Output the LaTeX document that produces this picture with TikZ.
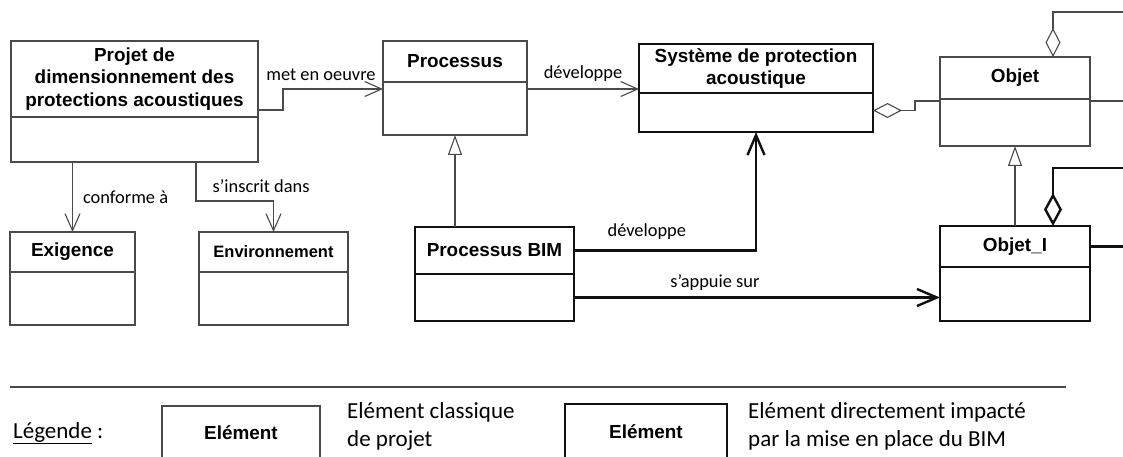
\documentclass[tikz,border=0pt]{standalone}
\usepackage{fontspec}
\setmainfont{Carlito}
\newfontfamily\arialfont{Liberation Sans}
\usetikzlibrary{arrows.meta,positioning,calc}
\definecolor{ink}{HTML}{111111}
\definecolor{trait}{HTML}{4A4A4A}
\newcommand\titrefont{\arialfont\bfseries\fontsize{18.9}{22.5}\selectfont}
\newcommand\lienfont{\fontsize{18.4}{22}\selectfont}
\newcommand\legfont{\fontsize{23}{28}\selectfont}

\begin{document}
\begin{tikzpicture}[x=1pt,y=-1pt]
\tikzset{classe/.style={draw=trait,line width=1.1pt,fill=white,align=center,font=\titrefont,inner sep=2pt,outer sep=0pt,anchor=north west},classeI/.style={classe,draw=ink,line width=2.4pt},lien/.style={draw=trait,line width=1.1pt,-{Straight Barb[length=17pt,width=15pt]}},lienI/.style={draw=ink,line width=2.4pt,-{Straight Barb[length=20pt,width=17pt]}},herit/.style={draw=trait,line width=1.1pt,-{Triangle[open,length=20pt,width=14pt]}},agreg/.style={draw=trait,line width=1.1pt,-{Diamond[open,length=29pt,width=15pt]}},agregI/.style={draw=ink,line width=2.4pt,-{Diamond[open,length=33pt,width=18pt]}},etiq/.style={font=\lienfont,inner sep=2pt}}
\fill[white] (0,0) rectangle (1123,457);
\useasboundingbox (0,0) rectangle (1123,457);
% classes
\node[classe,minimum width=247,minimum height=76] (projet) at (11,41) {Projet de\\dimensionnement des\\protections acoustiques};
\node[classe,minimum width=247,minimum height=45,below=0pt of projet] (projetB) {};
\node[classe,minimum width=144,minimum height=41] (proc) at (383,41) {Processus};
\node[classe,minimum width=144,minimum height=53,below=0pt of proc] (procB) {};
\node[classeI,minimum width=234,minimum height=49] (systeme) at (639,44) {Système de protection\\acoustique};
\node[classeI,minimum width=234,minimum height=39,below=0pt of systeme] (systemeB) {};
\node[classe,minimum width=150,minimum height=42] (objet) at (940,57) {Objet};
\node[classe,minimum width=150,minimum height=47,below=0pt of objet] (objetB) {};
\node[classeI,minimum width=150,minimum height=41] (objI) at (940,226) {Objet\_I};
\node[classeI,minimum width=150,minimum height=54,below=0pt of objI] (objIB) {};
\node[classeI,minimum width=159,minimum height=47] (bim) at (415,227) {Processus BIM};
\node[classeI,minimum width=159,minimum height=47,below=0pt of bim] (bimB) {};
\node[classe,minimum width=125,minimum height=40] (exig) at (10,232) {Exigence};
\node[classe,minimum width=125,minimum height=53,below=0pt of exig] (exigB) {};
\node[classe,minimum width=149,minimum height=40,font=\titrefont\fontsize{16.5}{20}\selectfont] (env) at (199,232) {Environnement};
\node[classe,minimum width=149,minimum height=53,below=0pt of env] (envB) {};
% liens
\draw[lien] ([yshift=7pt]projet.south east) -- ++(25,0) |- ([yshift=-7pt]procB.north west) node[etiq,above=6pt,pos=0.69] {met en oeuvre};
\draw[lien] ([yshift=-7pt]procB.north east) coordinate (dv) -- (dv -| systeme.west) node[etiq,above=5pt,midway] {développe};
\draw[agreg] ([yshift=-2pt]objetB.north west) -- ++(-25,0) |- ([yshift=2pt]systemeB.east);
\draw[agreg] ([yshift=-2pt]objetB.north east) -| ([shift={(40pt,45pt)}]objet.north east) -| ([xshift=38pt]objet.north);
\draw[agregI] (objI.east) -| ([shift={(40pt,58pt)}]objI.north east) -| ([xshift=38pt]objI.north);
\draw[herit] (objI.north) -- (objetB.south);
\draw[herit] (bim.north -| procB.south) -- (procB.south);
\draw[lienI] (bim.east) -| (systemeB.south) node[etiq,above=8pt,pos=0.2] {développe};
\draw[lienI] (bimB.east) -- (bimB.east -| objIB.west) node[etiq,above=4pt,pos=0.385] {s’appuie sur};
\draw[lien] (projetB.south -| exig.north) -- (exig.north) node[etiq,right=8pt,midway] {conforme à};
\draw[lien] ([xshift=61.5pt]projetB.south) -- ++(0,39) -| (env.north) node[etiq,above=6pt,pos=0.42] {s’inscrit dans};
% legende
\draw[draw=trait,line width=1.1pt] (10,387) coordinate (sepG) -- (1066,387) coordinate (sepD);
\node[font=\legfont,anchor=west,inner sep=0pt] (leg) at (13,433) {\underline{Légende} :};
\node[classe,minimum width=158,minimum height=54] (elem) at (162,406) {Elément};
\node[font=\legfont,align=left,anchor=west,inner sep=0pt] (elemT) at (347,426) {Elément classique\\de projet};
\node[classeI,minimum width=162,minimum height=56] (elemI) at (565,404) {Elément};
\node[font=\legfont,align=left,anchor=west,inner sep=0pt] (elemIT) at (748,426) {Elément directement impacté\\par la mise en place du BIM};
\end{tikzpicture}
\end{document}
